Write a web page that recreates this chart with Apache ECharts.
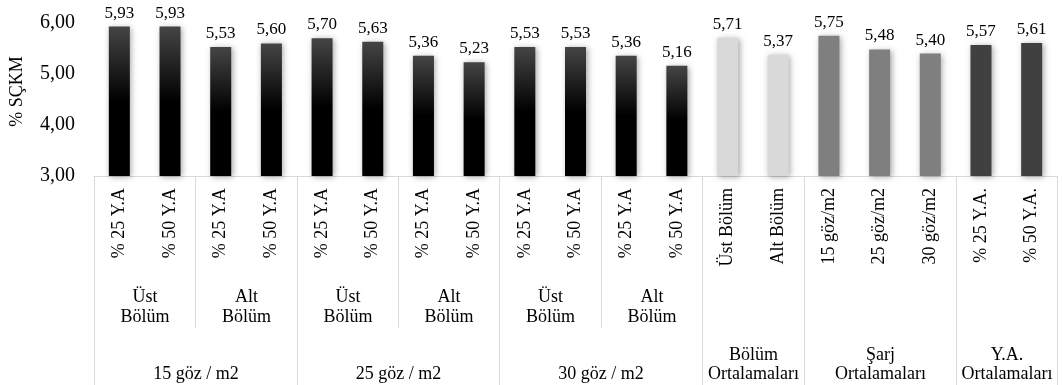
<!DOCTYPE html>
<html>
<head>
<meta charset="utf-8">
<script src="https://cdn.jsdelivr.net/npm/echarts@6/dist/echarts.min.js"></script>
<style>
  html, body { margin: 0; padding: 0; background: #fff; }
  #chart { width: 1063px; height: 385px; }
</style>
</head>
<body>
<div id="chart"></div>
<script>
// Bar categories (innermost axis level)
const categories = [
  '% 25 Y.A', '% 50 Y.A', '% 25 Y.A', '% 50 Y.A',
  '% 25 Y.A', '% 50 Y.A', '% 25 Y.A', '% 50 Y.A',
  '% 25 Y.A', '% 50 Y.A', '% 25 Y.A', '% 50 Y.A',
  'Üst Bölüm', 'Alt Bölüm',
  '15 göz/m2', '25 göz/m2', '30 göz/m2',
  '% 25 Y.A.', '% 50 Y.A.'
];

// % SÇKM values
const values = [
  5.93, 5.93, 5.53, 5.60,
  5.70, 5.63, 5.36, 5.23,
  5.53, 5.53, 5.36, 5.16,
  5.71, 5.37,
  5.75, 5.48, 5.40,
  5.57, 5.61
];

// Middle axis level (section), spans in categories
const subGroupLabels = ['Üst\nBölüm', 'Alt\nBölüm', 'Üst\nBölüm', 'Alt\nBölüm', 'Üst\nBölüm', 'Alt\nBölüm'];
const subGroupSpans = [2, 2, 2, 2, 2, 2];

// Outer axis level, spans in categories
const mainGroupLabels = ['15 göz / m2', '25 göz / m2', '30 göz / m2', 'Bölüm\nOrtalamaları', 'Şarj\nOrtalamaları', 'Y.A.\nOrtalamaları'];
const mainGroupSpans = [4, 4, 4, 2, 3, 2];

// Y axis ticks
const yMin = 3, yMax = 6, yStep = 1;

const FONT = "'Liberation Serif', 'Times New Roman', serif";
const GRID_LINE = '#d9d9d9';

const blackFill = {
  type: 'linear', x: 0, y: 0, x2: 0, y2: 1,
  colorStops: [
    { offset: 0, color: '#454545' },
    { offset: 0.5, color: '#000000' },
    { offset: 1, color: '#000000' }
  ]
};
const mainGroupFills = [blackFill, blackFill, blackFill, '#d9d9d9', '#7f7f7f', '#404040'];

// per-bar fill from its outer group
const barFills = [];
mainGroupSpans.forEach((span, g) => {
  for (let i = 0; i < span; i++) barFills.push(mainGroupFills[g]);
});

const barData = values.map((v, i) => ({
  value: v,
  itemStyle: { color: barFills[i] }
}));

function spansToData(spans, level) {
  const out = [];
  let start = 0;
  spans.forEach((span, i) => {
    out.push({ value: [start, yMin, span, level, i] });
    start += span;
  });
  return out;
}

const fmt = v => v.toFixed(2).replace('.', ',');

function renderGroup(labels) {
  return function (params, api) {
    const start = api.value(0);
    const span = api.value(2);
    const level = api.value(3);
    const idx = api.value(4);
    const bw = api.size([1, 0])[0];
    const base = api.coord([start, yMin]);
    const left = Math.round(base[0] - bw / 2) + 0.5;
    const right = Math.round(base[0] - bw / 2 + span * bw) + 0.5;
    const y0 = base[1];
    const h = api.getHeight();
    const children = [];
    const lineStyle = { stroke: GRID_LINE, lineWidth: 1 };
    if (level === 2) {
      children.push({ type: 'line', shape: { x1: left, y1: y0, x2: left, y2: y0 + 152 }, style: lineStyle });
      children.push({
        type: 'text',
        style: {
          x: (left + right) / 2, y: y0 + 131,
          text: labels[idx], align: 'center', verticalAlign: 'middle',
          font: '18px ' + FONT, lineHeight: 20, fill: '#000'
        }
      });
    } else {
      children.push({ type: 'line', shape: { x1: left, y1: y0, x2: left, y2: h }, style: lineStyle });
      children.push({ type: 'line', shape: { x1: right, y1: y0, x2: right, y2: h }, style: lineStyle });
      children.push({
        type: 'text',
        style: {
          x: (left + right) / 2, y: h - 1,
          text: labels[idx], align: 'center', verticalAlign: 'bottom',
          font: '18px ' + FONT, lineHeight: 19, fill: '#000'
        }
      });
    }
    return { type: 'group', children: children };
  };
}

const chart = echarts.init(document.getElementById('chart'), null, { renderer: 'canvas' });

chart.setOption({
  animation: false,
  textStyle: { fontFamily: FONT },
  grid: { left: 92, right: 6, top: 23, bottom: 209, containLabel: false },
  xAxis: {
    type: 'category',
    data: categories,
    axisLine: { show: true, lineStyle: { color: GRID_LINE, width: 1 } },
    axisTick: { show: false },
    axisLabel: {
      interval: 0, rotate: 90, margin: 12,
      fontFamily: FONT, fontSize: 18, color: '#000'
    },
    splitLine: { show: false }
  },
  yAxis: {
    type: 'value',
    min: yMin, max: yMax, interval: yStep,
    name: '% SÇKM',
    nameLocation: 'middle',
    nameGap: 68,
    nameRotate: 90,
    nameTextStyle: { fontFamily: FONT, fontSize: 18, color: '#000', padding: [0, 0, 0, 16] },
    axisLine: { show: false },
    axisTick: { show: false },
    splitLine: { show: false },
    axisLabel: {
      margin: 19,
      fontFamily: FONT, fontSize: 20, color: '#000',
      formatter: v => fmt(v)
    }
  },
  series: [
    {
      type: 'bar',
      data: barData,
      barWidth: 21,
      itemStyle: {
        shadowBlur: 6,
        shadowColor: 'rgba(0,0,0,0.35)',
        shadowOffsetX: 1.5,
        shadowOffsetY: 1
      },
      label: {
        show: true, position: 'top', distance: 5,
        fontFamily: FONT, fontSize: 17, color: '#000',
        formatter: p => fmt(p.value)
      }
    },
    {
      type: 'custom',
      silent: true,
      clip: false,
      encode: { x: 0, y: 1 },
      renderItem: renderGroup(subGroupLabels),
      data: spansToData(subGroupSpans, 2),
      z: 1
    },
    {
      type: 'custom',
      silent: true,
      clip: false,
      encode: { x: 0, y: 1 },
      renderItem: renderGroup(mainGroupLabels),
      data: spansToData(mainGroupSpans, 3),
      z: 1
    }
  ]
});
</script>
</body>
</html>
